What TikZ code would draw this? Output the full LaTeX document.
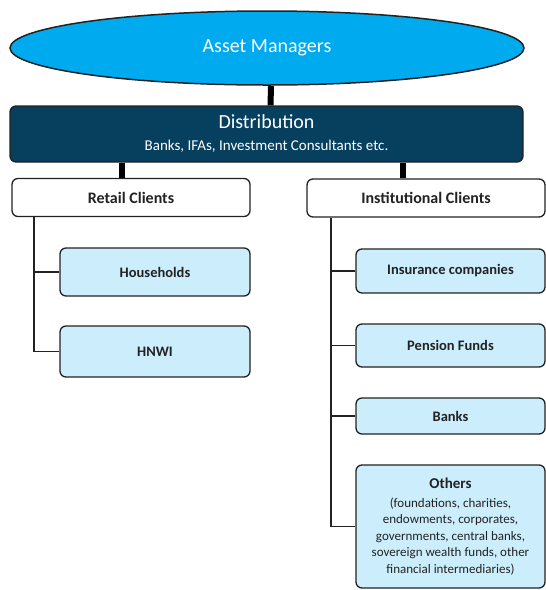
\documentclass[tikz,border=0pt]{standalone}
\usepackage{fontspec}
\setmainfont{Carlito}
\usetikzlibrary{shapes.geometric}
\definecolor{amblue}{HTML}{00AAEE}
\definecolor{distblue}{HTML}{07405E}
\definecolor{clientblue}{HTML}{CCEEFC}
\definecolor{boxline}{HTML}{222222}

\begin{document}
\begin{tikzpicture}[x=1pt,y=-1pt,
  box/.style={draw=boxline, line width=1.3pt, rounded corners=6pt, inner sep=0pt,
    align=center, text=boxline},
  clientbox/.style={box, fill=white, minimum width=238pt, minimum height=38pt,
    font=\fontsize{16}{19}\selectfont\bfseries},
  leafbox/.style={box, fill=clientblue, minimum width=189pt,
    font=\fontsize{14.5}{17}\selectfont\bfseries},
  trunk/.style={line width=6pt},
  branch/.style={line width=1.8pt, boxline}]

\useasboundingbox (0,0) rectangle (546,590);

% top of the tree
\node[ellipse, draw=boxline, line width=1.5pt, fill=amblue, text=white,
  minimum width=514pt, minimum height=74pt, inner sep=0pt,
  font=\fontsize{20}{24}\selectfont] (am) at (267,48) {Asset Managers};

\node[box, fill=distblue, text=white, minimum width=513pt, minimum height=56pt,
  font=\fontsize{15}{22}\selectfont]
  (dist) at (266.5,134)
  {{\fontsize{20}{22}\selectfont Distribution}\\
   Banks, IFAs, Investment Consultants etc.};

\node[clientbox] (retail) at (131,197.5) {Retail Clients};
\node[clientbox] (inst) at (426,198) {Institutional Clients};

% retail side
\node[leafbox, minimum width=190pt, minimum height=48pt] (house) at (155,272) {Households};
\node[leafbox, minimum width=190pt, minimum height=51pt] (hnwi) at (155,351.5) {HNWI};

% institutional side
\node[leafbox, minimum height=44pt] (insur) at (450.5,271) {Insurance companies};
\node[leafbox, minimum height=43pt] (pension) at (450.5,345.5) {Pension Funds};
\node[leafbox, minimum height=36pt] (banks) at (450.5,416) {Banks};
\node[leafbox, minimum height=123pt, font=\fontsize{13}{16.5}\selectfont]
  (others) at (450.5,526.5)
  {{\fontsize{15}{17}\selectfont\bfseries Others}\\[2.5pt]
   (foundations, charities,\\
   endowments, corporates,\\ governments, central banks,\\
   sovereign wealth funds, other\\ financial intermediaries)};

% thick connectors
\draw[trunk] ([xshift=4pt]am.south) -- ([xshift=4pt]dist.north);
\draw[trunk] ([xshift=-9pt]retail.north) -- ([xshift=-9pt]retail.north |- dist.south);
\draw[trunk] ([xshift=-23pt]inst.north) -- ([xshift=-23pt]inst.north |- dist.south);

% thin branches
\foreach \leaf in {house,hnwi}
  \draw[branch] ([xshift=23pt]retail.south west) |- (\leaf.west);
\foreach \leaf in {insur,pension,banks,others}
  \draw[branch] ([xshift=25pt]inst.south west) |- (\leaf.west);

\end{tikzpicture}
\end{document}
